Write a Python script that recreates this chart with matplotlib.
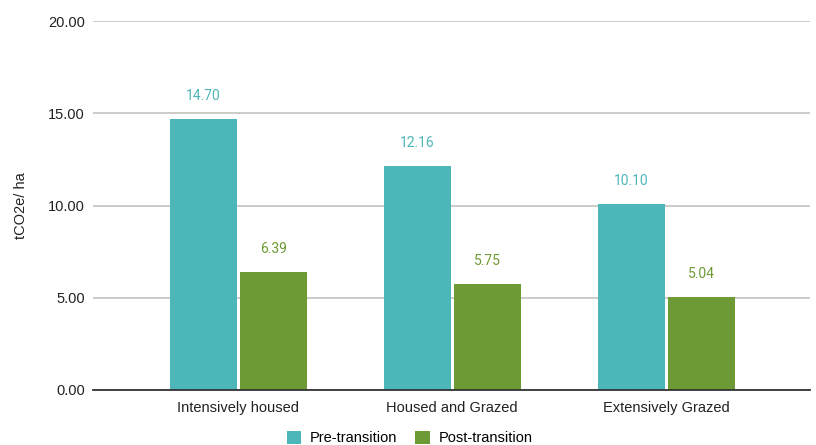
import numpy as np
import matplotlib.pyplot as plt

# data
categories = ['Intensively housed', 'Housed and Grazed', 'Extensively Grazed']
pre = [14.70, 12.16, 10.10]
post = [6.39, 5.75, 5.04]

teal = '#4db6b9'
green = '#6e9a35'

plt.rcParams['font.family'] = ['Liberation Sans', 'DejaVu Sans']

fig = plt.figure(figsize=(8.16, 4.45), dpi=100)
ax = fig.add_axes([0.114, 0.1236, 0.8786, 0.8292])

x = np.arange(len(categories))
w = 0.313
gap = 0.007
b1 = ax.bar(x - w/2 - gap, pre, w, color=teal, label='Pre-transition', zorder=3)
b2 = ax.bar(x + w/2 + gap, post, w, color=green, label='Post-transition', zorder=3)

for bars, vals, c in [(b1, pre, teal), (b2, post, green)]:
    for r, v in zip(bars, vals):
        ax.text(r.get_x() + r.get_width()/2, v + 0.85, '%.2f' % v, ha='center', va='bottom',
                color=c, fontsize=10, family=['Roboto', 'DejaVu Sans'])

ax.set_ylim(0, 20)
ax.set_xlim(-0.678, 2.672)
ax.set_yticks([0, 5, 10, 15, 20])
ax.set_yticklabels(['%.2f' % t for t in [0, 5, 10, 15, 20]], fontsize=10.5, color='#222222')
ax.set_xticks(x)
ax.set_xticklabels(categories, fontsize=10.5, color='#222222')
ax.tick_params(axis='y', length=0, pad=6)
ax.tick_params(axis='x', length=0, pad=8)
ax.grid(axis='y', color='#c4c2bd', linewidth=1.2, zorder=0)
for s in ['top', 'right', 'left']:
    ax.spines[s].set_visible(False)
ax.spines['bottom'].set_color('#333333')
ax.spines['bottom'].set_linewidth(1.3)
ax.spines['bottom'].set_zorder(4)

ax.set_ylabel('tCO2e/ ha', fontsize=10.5, color='#222222', labelpad=14)

ax.legend(loc='center', bbox_to_anchor=(0.502, 0.016), bbox_transform=fig.transFigure,
          ncol=2, frameon=False, fontsize=10.5, handlelength=1.0, handleheight=1.0,
          columnspacing=1.2, handletextpad=0.6)

fig.savefig('out.png', dpi=100)
